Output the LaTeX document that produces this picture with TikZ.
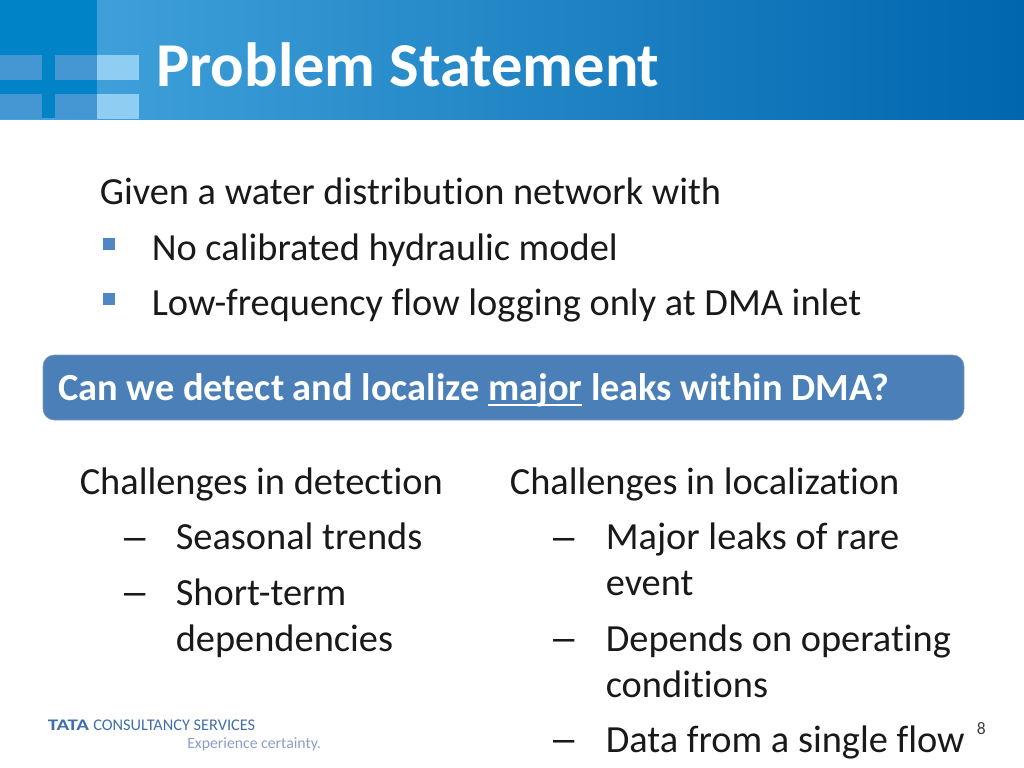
\documentclass[tikz,border=0pt]{standalone}
\usepackage{fontspec}
\setmainfont[Ligatures=NoCommon]{Carlito}
\newfontfamily\dashfont{Liberation Sans}
\usepackage{xcolor}
\usetikzlibrary{positioning}
\definecolor{headL}{HTML}{45A6DE}
\definecolor{headM}{HTML}{2A8ECF}
\definecolor{headR}{HTML}{0066AE}
\definecolor{headsq}{HTML}{0083C7}
\definecolor{barmid}{HTML}{4597D4}
\definecolor{barlight}{HTML}{8FCDF3}
\definecolor{bannerc}{HTML}{4A7FB7}
\definecolor{bannerline}{HTML}{7F9DBF}
\definecolor{bullc}{HTML}{4F86C6}
\definecolor{logoc}{HTML}{3F6EA9}
\definecolor{logod}{HTML}{8C9DCB}
\newcommand{\bodysize}{\fontsize{27.3}{32}\selectfont}
\newcommand{\thickul}[1]{\setbox0\hbox{#1}\rlap{\rule[-4.2pt]{\wd0}{1.4pt}}\box0\relax}
\tikzset{
  body/.style={anchor=base west,inner sep=0pt,text=black!90,font=\bodysize},
  dashmark/.style={anchor=base west,inner sep=0pt,text=black!90,font=\bodysize\dashfont},
  bullet/.style={fill=bullc,minimum size=8.5pt,inner sep=0pt,draw=none},
}
\begin{document}
\begin{tikzpicture}[x=0.025cm,y=-0.025cm]
\useasboundingbox (0,0) rectangle (1024,768);
% header
\shade[left color=headL,middle color=headM,right color=headR] (0,0) rectangle (1024,120);
\fill[headsq] (0,0) rectangle (97,118);
\foreach \y in {55,94} {
    \fill[barmid] (0,\y) rectangle (42,\y+25);
    \fill[barmid] (55,\y) rectangle (97,\y+25);
    \fill[barlight] (97,\y) rectangle (139,\y+25);
}
\node[anchor=base west,inner sep=0pt,text=white,font=\fontsize{44.4}{52}\selectfont\bfseries] (title) at (156,87) {Problem Statement};
% given
\node[body] (given) at (99.5,204) {Given a water distribution network with};
\node[bullet] (bulla) at (109,244) {};
\node[body] (model) at (151.5,260) {No calibrated hydraulic model};
\node[bullet] (bullb) at (109,299) {};
\node[body] (inlet) at (151.5,315) {Low-frequency flow logging only at DMA inlet};
% banner
\draw[rounded corners=8pt,fill=bannerc,draw=bannerline] (43,355) rectangle (964,420);
\node[anchor=base west,inner sep=0pt,text=white,font=\fontsize{27.3}{32}\selectfont\bfseries] (question) at (58,400) {Can we detect and localize \thickul{major} leaks within DMA?};
% left column
\node[body] (detect) at (79.5,494) {Challenges in detection};
\node[dashmark] (dasha) at (124,549) {–};
\node[body] (seasonal) at (175.5,549) {Seasonal trends};
\node[dashmark] (dashb) at (124,604) {–};
\node[body] (short) at (175.5,605) {Short-term};
\node[body] (depend) at (175.5,651) {dependencies};
% right column
\node[body] (local) at (509.5,494) {Challenges in localization};
\node[dashmark] (dashc) at (553,549) {–};
\node[body] (major) at (605.5,549) {Major leaks of rare};
\node[body] (event) at (605.5,595.5) {event};
\node[dashmark] (dashd) at (553,650) {–};
\node[body] (operating) at (605.5,651) {Depends on operating};
\node[body] (cond) at (605.5,697) {conditions};
\node[dashmark] (dashe) at (553,751) {–};
\node[body] (single) at (605.5,752.5) {Data from a single flow};
% footer
\node[anchor=base east,inner sep=0pt,text=black!75,font=\fontsize{12.5}{14}\selectfont] (page) at (986,734) {8};
\node[anchor=base west,inner sep=0pt,text=logoc,font=\fontsize{11.5}{14}\selectfont\bfseries] (tata) at (47.5,730) {\scalebox{1.3}[1]{TATA}};
\node[anchor=base west,inner sep=0pt,text=logoc,font=\fontsize{11.6}{14}\selectfont] (tcs) at (93,730) {CONSULTANCY SERVICES};
\node[anchor=base west,inner sep=0pt,text=logod,font=\fontsize{11.2}{14}\selectfont] (tagline) at (187,748) {Experience certainty.};
\end{tikzpicture}
\end{document}
